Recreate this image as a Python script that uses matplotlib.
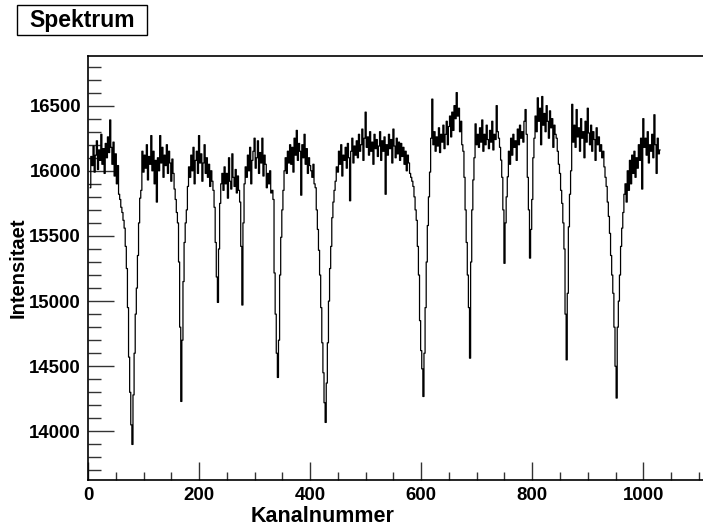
import matplotlib
matplotlib.use("Agg")
import matplotlib.pyplot as plt
from matplotlib.ticker import MultipleLocator
from matplotlib.patches import Rectangle

plt.rcParams['font.family'] = ['Liberation Sans', 'DejaVu Sans']

# channel grid: every 2nd channel from 4 to 1030
channel_start = 4
channel_step = 2

counts = [
    15870, 16110, 16040, 16190, 15990, 16120, 16230, 16010, 16160, 16080,
    16280, 16050, 16170, 15980, 16210, 16100, 16260, 16140, 16390, 16180,
    16050, 16220, 15960, 16130, 15900, 16040, 15820, 15780, 15720, 15680,
    15620, 15560, 15420, 15250, 14950, 14570, 14300, 14050, 13900, 14280,
    14600, 14900, 15100, 15350, 15600, 15790, 15850, 16150, 15990, 16120,
    16020, 16200, 15930, 16110, 16050, 16270, 16000, 16150, 15900, 16080,
    15760, 16100, 16000, 16270, 16060, 16180, 15950, 16120, 16040, 16200,
    15980, 16150, 16060, 15920, 16090, 15980, 15860, 15780, 15680, 15600,
    15300, 14800, 14230, 14700, 15150, 15450, 15600, 15700, 15880, 16030,
    15950, 16120, 16000, 16180, 15900, 16080, 16150, 15980, 16270, 16060,
    16130, 15920, 16060, 16200, 15980, 16100, 15950, 16050, 15880, 16000,
    15920, 15850, 15720, 15450, 15185, 14990, 15400, 15750, 15900, 15980,
    15850, 16030, 15900, 15980, 15790, 16100, 15920, 15860, 16130, 15950,
    15880, 16010, 15830, 15960, 15850, 15760, 15420, 14970, 15600, 15900,
    16030, 15950, 16120, 16000, 16180, 15900, 16080, 16150, 16250, 16020,
    16100, 16230, 15980, 16140, 16060, 16250, 15960, 16120, 16050, 15870,
    15980, 15900, 16000, 15830, 15850, 15780, 15216, 14900, 14600, 14414,
    14700, 15200, 15490, 15700, 15850, 16000, 16100, 15980, 16150, 16060,
    16200, 16050, 16180, 15990, 16250, 16120, 16310, 16080, 16210, 16150,
    15813, 16200, 16100, 16280, 16050, 16170, 15980, 16100, 16040, 16000,
    15950, 16050, 15900, 15870, 15700, 15550, 15390, 15200, 14950, 14680,
    14450, 14220, 14069, 14371, 14680, 15000, 15250, 15420, 15640, 15760,
    15850, 15920, 16030, 15990, 16150, 16050, 16200, 15960, 16120, 16080,
    16180, 16020, 16210, 16100, 15770, 16150, 16250, 16060, 16190, 16120,
    16230, 16100, 16280, 16150, 16200, 16320, 16080, 16250, 16450, 16180,
    16260, 16120, 16300, 16150, 16220, 16050, 16280, 16170, 16240, 16110,
    16190, 16300, 16080, 16230, 16150, 16260, 15820, 16200, 16120, 16280,
    16170, 16240, 16060, 16320, 16190, 16100, 16250, 16130, 16220, 16080,
    16210, 16110, 16180, 16050, 16150, 16000, 16120, 16060, 15980, 15950,
    15920, 15880, 15800, 15700, 15620, 15420, 15200, 14850, 14620, 14480,
    14268, 14600, 14950, 15300, 15580, 15800, 15990, 16250, 16550, 16200,
    16300, 16150, 16260, 16190, 16330, 16140, 16280, 16220, 16350, 16170,
    16280, 16380, 16200, 16340, 16420, 16260, 16450, 16310, 16500, 16400,
    16600, 16420, 16480, 16300, 16380, 16200, 16150, 15950, 15700, 15450,
    15200, 14950, 14562, 15300, 15700, 15930, 16100, 16360, 16200, 16280,
    16180, 16330, 16220, 16390, 16150, 16280, 16200, 16350, 16240, 16170,
    16310, 16220, 16380, 16160, 16280, 16240, 16500, 16300, 16250, 16180,
    16082, 15950, 15700, 15290, 15600, 15800, 15954, 16150, 16050, 16250,
    16120, 16280, 16180, 16230, 16080, 16320, 16200, 16350, 16250, 16300,
    16220, 16380, 16470, 16280, 15950, 15700, 15330, 15550, 15780, 16100,
    16250, 16420, 16300, 16560, 16380, 16480, 16200, 16570, 16350, 16440,
    16300, 16500, 16380, 16250, 16460, 16330, 16400, 16180, 16350, 16280,
    16250, 16150, 16050, 15980, 15850, 15750, 15600, 15400, 14900, 14549,
    15060, 15570, 15820, 16000, 16510, 16220, 16350, 16180, 16470, 16260,
    16330, 16150, 16400, 16250, 16300, 16100, 16380, 16220, 16480, 16290,
    16200, 16350, 16150, 16300, 16240, 16080, 16330, 16200, 16260, 16150,
    16200, 16100, 16150, 16030, 15950, 15880, 15760, 15650, 15520, 15350,
    15200, 15060, 14800, 14500, 14256, 14800, 15000, 15200, 15420, 15560,
    15680, 15820, 15900, 15760, 16000, 15850, 16080, 15900, 16120, 15980,
    16150, 15950, 16100, 16020, 16200, 16080, 16250, 15860, 16400, 16180,
    16250, 16120, 16300, 16060, 16200, 16150, 16280, 16100, 16430, 16200,
    15980, 16250, 16130, 16160,
]
channels = [channel_start + channel_step * i for i in range(len(counts))]

x_ticks = [0, 200, 400, 600, 800, 1000]
y_ticks = [14000, 14500, 15000, 15500, 16000, 16500]

fig = plt.figure(figsize=(7.03, 5.28), dpi=100)
ax = fig.add_axes([88/703, 1 - 480/528, 1 - 88/703 + 0.002, (480 - 56)/528])

ax.step(channels, counts, where='mid', color='black', linewidth=0.9)

ax.set_xlim(0, 1110)
ax.set_ylim(13627, 16881)
ax.set_xticks(x_ticks)
ax.set_yticks(y_ticks)
ax.xaxis.set_minor_locator(MultipleLocator(50))
ax.yaxis.set_minor_locator(MultipleLocator(100))
ax.tick_params(axis='both', which='both', direction='in', top=False, right=False, color='#333333')
ax.tick_params(axis='y', which='major', length=19, width=1, pad=5)
ax.tick_params(axis='y', which='minor', length=9, width=1)
ax.tick_params(axis='x', which='major', length=13, width=1, pad=5)
ax.tick_params(axis='x', which='minor', length=6, width=1)
for lab in ax.get_xticklabels() + ax.get_yticklabels():
    lab.set_fontweight('bold')
    lab.set_fontsize(13.4)
for sp in ax.spines.values():
    sp.set_linewidth(1.2)

fig.text(323/703, 1 - 517/528, 'Kanalnummer', ha='center', va='center', fontsize=15.5, fontweight='bold')
fig.text(18.5/703, 1 - 268/528, 'Intensitaet', ha='center', va='center', rotation=90, fontsize=14.5, fontweight='bold')

fig.patches.append(Rectangle((17/703, 1 - 35/528), 130/703, 30/528, transform=fig.transFigure,
                             facecolor='white', edgecolor='black', linewidth=1.0))
fig.text(82/703, 1 - 20/528, 'Spektrum', ha='center', va='center', fontsize=16.5, fontweight='bold')

fig.savefig('out.png', dpi=100)
